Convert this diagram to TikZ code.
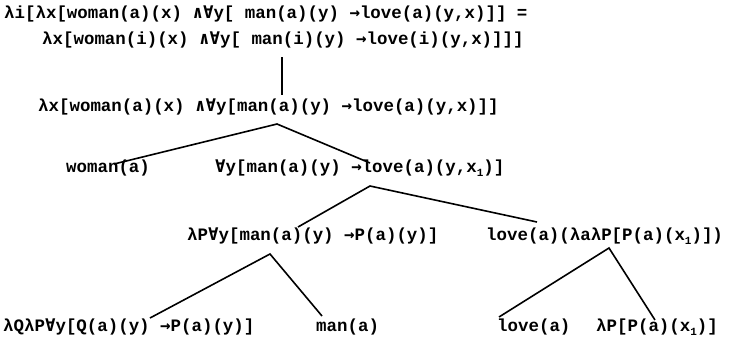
\documentclass[tikz,border=0pt]{standalone}
\usepackage{fontspec}
\setmonofont{Liberation Mono}
\newfontfamily\symfont{DejaVu Sans Mono}
\newcommand{\FA}{{\symfont\bfseries ∀}}
\newcommand{\LAND}{{\symfont\bfseries ∧}}
\newcommand{\RA}{{\symfont\bfseries →}}
\newcommand{\sub}[1]{\raisebox{-0.45ex}{\fontsize{11}{11}\selectfont #1}}
\tikzset{
  lbl/.style={anchor=west, inner sep=0pt, font=\ttfamily\bfseries\fontsize{17.5}{19}\selectfont},
  branch/.style={line width=1.6bp, black}
}
\begin{document}
\begin{tikzpicture}[x=1bp,y=-1bp]
\useasboundingbox[fill=white] (0,0) rectangle (734,349);
% rows
\node[lbl] (l1) at (4,14) {λi[λx[woman(a)(x) \LAND\FA y[ man(a)(y) \RA love(a)(y,x)]] =};
\node[lbl] (l2) at (42,40) {λx[woman(i)(x) \LAND\FA y[ man(i)(y) \RA love(i)(y,x)]]]};
\node[lbl] (l3) at (38,107) {λx[woman(a)(x) \LAND\FA y[man(a)(y) \RA love(a)(y,x)]]};
\node[lbl] (wa) at (66,168) {woman(a)};
\node[lbl] (fy) at (215,168) {\FA y[man(a)(y) \RA love(a)(y,x\sub{1})]};
\node[lbl] (lp) at (187,236) {λP\FA y[man(a)(y) \RA P(a)(y)]};
\node[lbl] (lv) at (486,236) {love(a)(λaλP[P(a)(x\sub{1})])};
\node[lbl] (lq) at (3,327) {λQλP\FA y[Q(a)(y) \RA P(a)(y)]};
\node[lbl] (ma) at (316,327) {man(a)};
\node[lbl] (lo) at (497,327) {love(a)};
\node[lbl] (pp) at (596,327) {λP[P(a)(x\sub{1})]};
% connector points
\coordinate (v1) at (282,57);
\coordinate (v2) at (282,95);
\coordinate (a3) at (277,124);
\coordinate (a3l) at (114,164);
\coordinate (a3r) at (370,163);
\coordinate (a4) at (370,186);
\coordinate (a4l) at (298,227);
\coordinate (a4r) at (537,222);
\coordinate (a5) at (270,254);
\coordinate (a5l) at (150,318);
\coordinate (a5r) at (322,316);
\coordinate (a6) at (609,248);
\coordinate (a6l) at (499,317);
\coordinate (a6r) at (655,320);
\draw[branch] (v1) -- (v2);
\draw[branch] (a3l) -- (a3) -- (a3r);
\draw[branch] (a4l) -- (a4) -- (a4r);
\draw[branch] (a5l) -- (a5) -- (a5r);
\draw[branch] (a6l) -- (a6) -- (a6r);
\end{tikzpicture}
\end{document}
